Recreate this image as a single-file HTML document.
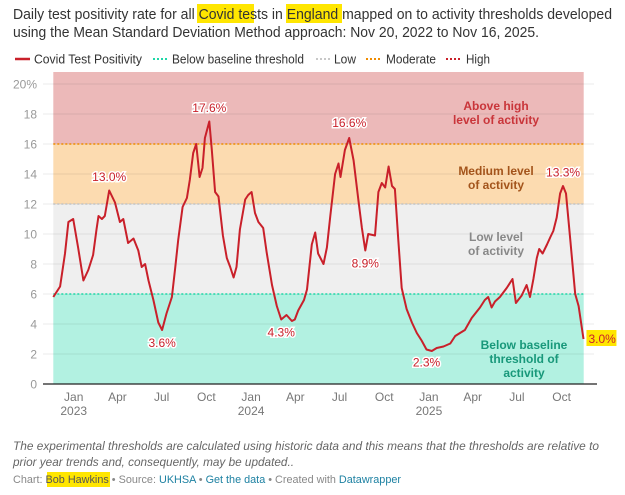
<!DOCTYPE html>
<html><head><meta charset="utf-8"><style>
html,body{margin:0;padding:0;background:#fff;width:625px;height:495px;overflow:hidden;font-family:"Liberation Sans",sans-serif}
svg{display:block}
</style></head><body>
<svg id="chart" width="625" height="495" viewBox="0 0 625 495" xmlns="http://www.w3.org/2000/svg">
<g font-size="14.6" fill="#333">
<rect x="197" y="4" width="57" height="19" fill="#ffe600"/>
<rect x="286" y="4" width="56" height="19" fill="#ffe600"/>
<text x="13" y="19" textLength="599" lengthAdjust="spacingAndGlyphs">Daily test positivity rate for all Covid tests in England mapped on to activity thresholds developed</text>
<text x="13" y="37" textLength="526" lengthAdjust="spacingAndGlyphs">using the Mean Standard Deviation Method approach: Nov 20, 2022 to Nov 16, 2025.</text>
</g>
<g font-size="12.5" fill="#333">
<g><line x1="15" y1="59" x2="30" y2="59" stroke="#c9202a" stroke-width="2.5"/><text x="34" y="63.5" textLength="108" lengthAdjust="spacingAndGlyphs">Covid Test Positivity</text></g>
<g><line x1="153" y1="59" x2="167" y2="59" stroke="#1ed8a8" stroke-width="2" stroke-dasharray="2,2"/><text x="172" y="63.5" textLength="132" lengthAdjust="spacingAndGlyphs">Below baseline threshold</text></g>
<g><line x1="316" y1="59" x2="330" y2="59" stroke="#c8c8c8" stroke-width="2" stroke-dasharray="2,2"/><text x="334" y="63.5" textLength="22" lengthAdjust="spacingAndGlyphs">Low</text></g>
<g><line x1="366" y1="59" x2="380" y2="59" stroke="#f08c00" stroke-width="2" stroke-dasharray="2,2"/><text x="386" y="63.5" textLength="50" lengthAdjust="spacingAndGlyphs">Moderate</text></g>
<g><line x1="446" y1="59" x2="460" y2="59" stroke="#c9202a" stroke-width="2" stroke-dasharray="2,2"/><text x="466" y="63.5" textLength="24" lengthAdjust="spacingAndGlyphs">High</text></g>
</g>
<g id="plot"></g>
<g font-size="12" font-style="italic" fill="#666">
<text x="13" y="450" textLength="586" lengthAdjust="spacingAndGlyphs">The experimental thresholds are calculated using historic data and this means that the thresholds are relative to</text>
<text x="13" y="466" textLength="281" lengthAdjust="spacingAndGlyphs">prior year trends and, consequently, may be updated..</text>
</g>
<g font-size="11" fill="#888">
<rect x="47" y="472" width="63" height="15" fill="#ffe600"/>
<text x="13" y="483" textLength="388" lengthAdjust="spacingAndGlyphs">Chart: <tspan fill="#555">Bob Hawkins</tspan> • Source: <tspan fill="#1d81a2">UKHSA</tspan> • <tspan fill="#1d81a2">Get the data</tspan> • Created with <tspan fill="#1d81a2">Datawrapper</tspan></text>
</g>
</svg>
<script>
const days = [0,14,24,31,41,51,62,72,82,89,93,100,106,115,127,137,144,154,165,175,182,189,196,206,216,224,233,244,251,257,266,275,281,288,294,301,307,312,321,326,333,340,349,357,364,371,377,384,395,401,408,415,422,432,439,450,460,469,480,491,497,504,516,522,532,539,545,556,563,570,580,587,591,600,609,618,628,635,642,648,662,669,676,683,690,697,703,710,717,727,738,748,758,768,779,789,803,817,827,837,847,861,878,888,895,902,909,919,933,945,952,964,974,981,988,995,1000,1007,1016,1023,1029,1036,1043,1049,1055,1064,1074,1081,1091];
const values = [5.8,6.5,8.7,10.8,11.0,9.1,6.9,7.6,8.6,10.3,11.2,11.0,11.2,12.9,12.1,10.8,11.0,9.4,9.7,8.9,7.8,8.0,6.9,5.6,4.1,3.6,4.7,5.8,7.8,9.6,11.8,12.4,13.6,15.4,16.0,13.8,14.4,16.4,17.5,15.7,12.8,12.5,9.9,8.4,7.8,7.1,7.8,10.3,12.3,12.6,12.8,11.4,10.8,10.4,8.8,6.6,5.2,4.3,4.6,4.2,4.3,4.9,5.6,6.3,9.3,10.1,8.7,8.0,9.1,11.2,14.0,14.7,13.8,15.6,16.4,14.9,12.2,10.4,8.9,10.0,9.9,12.8,13.4,13.1,14.5,13.2,13.0,9.6,6.4,5.0,4.1,3.4,2.9,2.3,2.2,2.4,2.5,2.7,3.2,3.4,3.6,4.4,5.1,5.6,5.8,5.1,5.5,5.8,6.4,7.0,5.4,5.9,6.6,5.8,7.0,8.4,9.0,8.7,9.3,9.8,10.2,11.1,12.7,13.2,12.7,9.6,6.0,5.2,3.0];
const yTicks = [0,2,4,6,8,10,12,14,16,18,20];
const yTickLabels = ["0","2","4","6","8","10","12","14","16","18","20%"];
const thresholds = [6,12,16];
const bandEdges = [0,6,12,16,20.8];
const monthTickDays = [42,132,223,315,407,498,589,681,773,863,954,1046];
const monthTickLabels = ["Jan","Apr","Jul","Oct","Jan","Apr","Jul","Oct","Jan","Apr","Jul","Oct"];
const yearLabels = ["2023","","","","2024","","","","2025","","",""];
const annoDays = [115,321,224,469,609,642,768,1049,1091];
const annoValues = [13.0,17.6,3.6,4.3,16.6,8.9,2.3,13.3,3.0];
const annoBelow = [false,false,true,true,false,true,true,false,false];

const X0=53.3, X1=583.7, DMAX=1091.5, Y0=384, YPX=15;
const x = d => X0 + (d/DMAX)*(X1-X0);
const y = v => Y0 - v*YPX;
const NS="http://www.w3.org/2000/svg";
const plot=document.getElementById('plot');
function mk(tag,attrs,parent){const e=document.createElementNS(NS,tag);for(const k in attrs)e.setAttribute(k,attrs[k]);(parent||plot).appendChild(e);return e;}

const bandColors=["#b2f1e1","#efefef","#fcdbb0","#ecb9b9"];
const bandNames=["band-below-baseline","band-low","band-medium","band-high"];
for(let i=0;i<4;i++){
  const r=mk('rect',{x:X0,y:y(bandEdges[i+1]),width:X1-X0,height:y(bandEdges[i])-y(bandEdges[i+1]),fill:bandColors[i]});
  
  
}
yTicks.forEach((t,i)=>{
  if(t>0){const g=mk('line',{x1:43,x2:594,y1:y(t),y2:y(t),stroke:"#000","stroke-opacity":0.08,"stroke-width":1});
  
  }
  const tx=mk('text',{x:37,y:y(t)+4.5,"text-anchor":"end","font-size":12,fill:"#999"});
  tx.textContent=yTickLabels[i];
  
  
});
const thColors=["#1ed8a8","#c4c4c4","#f08c00"];
const thNames=["baseline-threshold-line","low-threshold-line","moderate-threshold-line"];
thresholds.forEach((t,i)=>{
  const l=mk('line',{x1:X0,x2:X1,y1:y(t),y2:y(t),stroke:thColors[i],"stroke-width":1.6,"stroke-dasharray":"2,2"});
  
  
});
const ax=mk('line',{x1:43,x2:597,y1:Y0,y2:Y0,stroke:"#222","stroke-width":1.3});


monthTickDays.forEach((d,i)=>{
  const t=mk('text',{x:x(d),y:401,"text-anchor":"middle","font-size":12,fill:"#777"});
  t.textContent=monthTickLabels[i];
  
  
  if(yearLabels[i]){const yt=mk('text',{x:x(d),y:415,"text-anchor":"middle","font-size":12,fill:"#777"});
  yt.textContent=yearLabels[i];
  
  }
});
const bl=[["Above high","level of activity"],["Medium level","of activity"],["Low level","of activity"],["Below baseline","threshold of","activity"]];
const blY=[110,175,241,349];const blC=["#c9353a","#a3541b","#888888","#18987a"];
const blN=["label-high","label-medium","label-low","label-below-baseline"];
bl.forEach((lines,i)=>{lines.forEach((s,j)=>{
  const t=mk('text',{x:i==3?524:496,y:blY[i]+j*14,"text-anchor":"middle","font-size":12,"font-weight":"bold",fill:blC[i]});
  t.textContent=s;
  
  
});});
let dstr=days.map((d,i)=>(i?'L':'M')+x(d).toFixed(1)+','+y(values[i]).toFixed(1)).join('');
const p=mk('path',{d:dstr,fill:"none",stroke:"#c9202a","stroke-width":2,"stroke-linejoin":"round"});


annoDays.forEach((d,i)=>{
  const last=i===annoDays.length-1;
  const ay=annoBelow[i]?y(annoValues[i])+17:y(annoValues[i])-8;
  if(last){const hr=mk('rect',{x:x(d)+3,y:y(annoValues[i])-9,width:30,height:16,fill:"#ffe600"});
  
  }
  const t=mk('text',{x:last?x(d)+5:x(d),y:last?y(annoValues[i])+4:ay,"text-anchor":last?"start":"middle","font-size":12,fill:"#c9202a",stroke:last?"none":"#fff","stroke-width":3,"paint-order":"stroke"});
  t.textContent=annoValues[i].toFixed(1)+'%';
  
  
});
</script>
</body></html>
